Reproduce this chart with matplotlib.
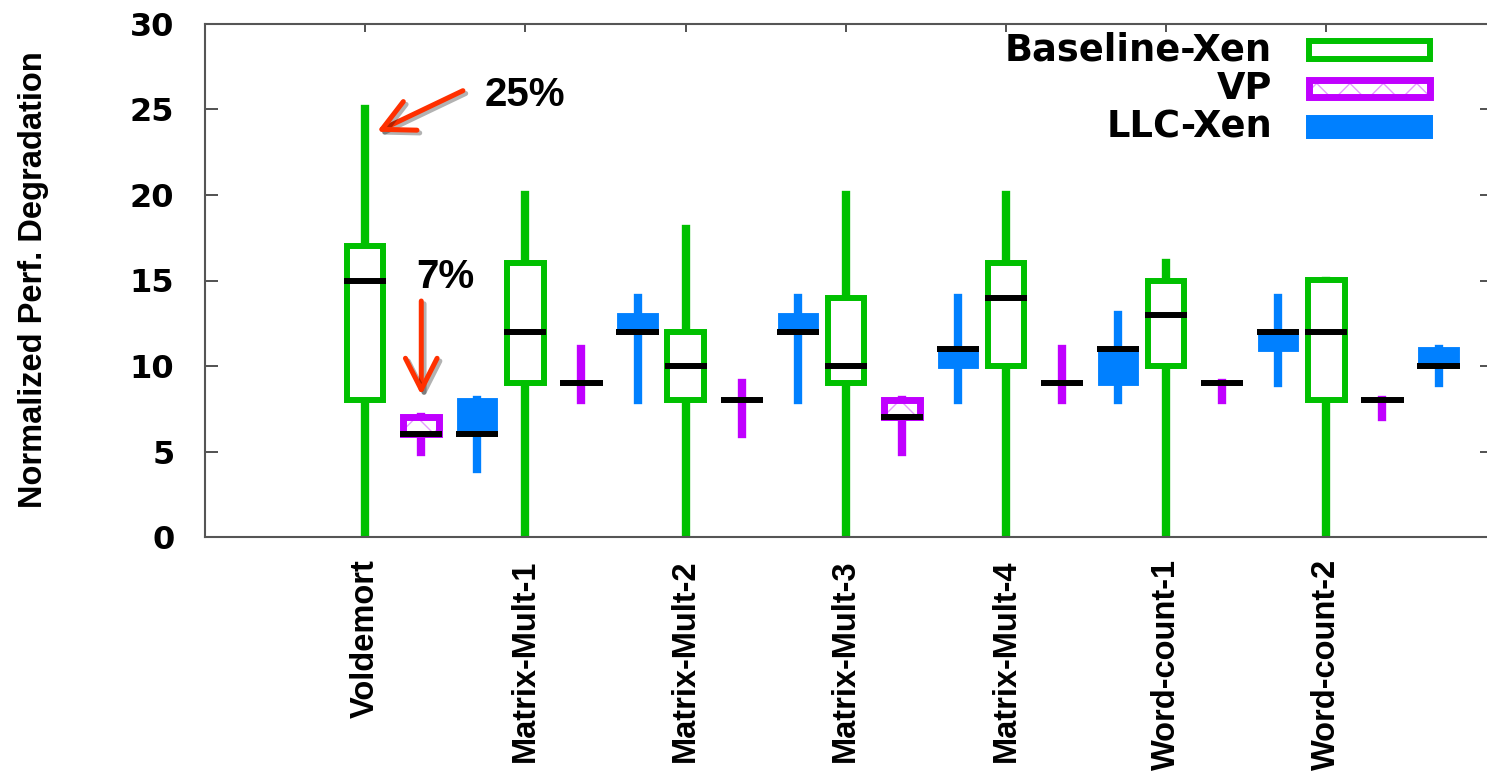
import numpy as np
import matplotlib
matplotlib.use("Agg")
import matplotlib.pyplot as plt
from matplotlib.patches import Rectangle
import matplotlib.patheffects as pe

# --- data ---
workloads = ["Voldemort", "Matrix-Mult-1", "Matrix-Mult-2", "Matrix-Mult-3",
             "Matrix-Mult-4", "Word-count-1", "Word-count-2"]

baseline_lo = [0, 0, 0, 0, 0, 0, 0]
baseline_q1 = [8, 9, 8, 9, 10, 10, 8]
baseline_med = [15, 12, 10, 10, 14, 13, 12]
baseline_q3 = [17, 16, 12, 14, 16, 15, 15]
baseline_hi = [25, 20, 18, 20, 20, 16, 15]

vp_lo = [5, 8, 6, 5, 8, 8, 7]
vp_q1 = [6, 9, 8, 7, 9, 9, 8]
vp_med = [6, 9, 8, 7, 9, 9, 8]
vp_q3 = [7, 9, 8, 8, 9, 9, 8]
vp_hi = [7, 11, 9, 8, 11, 9, 8]

llc_lo = [4, 8, 8, 8, 8, 9, 9]
llc_q1 = [6, 12, 12, 10, 9, 11, 10]
llc_med = [6, 12, 12, 11, 11, 12, 10]
llc_q3 = [8, 13, 13, 11, 11, 12, 11]
llc_hi = [8, 14, 14, 14, 13, 14, 11]

yticks = [0, 5, 10, 15, 20, 25, 30]

GREEN = "#00c000"
PURPLE = "#c000ff"
HATCH = "#e59cff"
BLUE = "#0080ff"
RED = "#ff3000"

BOX_W = 0.68
MED_W = 0.79
OFFSETS = [0.0, 1.05, 2.1]

plt.rcParams["font.family"] = ["DejaVu Sans"]
NARROW = ["Liberation Sans Narrow", "Liberation Sans", "DejaVu Sans"]
CALLOUT = ["Liberation Sans", "DejaVu Sans"]


def draw_candle(ax, x, lo, q1, med, q3, hi, kind):
    color = {"base": GREEN, "vp": PURPLE, "llc": BLUE}[kind]
    ax.plot([x, x], [lo, hi], color=color, lw=6.0,
            solid_capstyle="projecting", zorder=2)
    if q3 > q1:
        if kind == "base":
            ax.add_patch(Rectangle((x - BOX_W / 2, q1), BOX_W, q3 - q1,
                                   facecolor="white", edgecolor=color,
                                   lw=4.3, zorder=3))
        elif kind == "vp":
            ax.add_patch(Rectangle((x - BOX_W / 2, q1), BOX_W, q3 - q1,
                                   facecolor="white", edgecolor=HATCH,
                                   hatch="x", lw=0, zorder=3))
            ax.add_patch(Rectangle((x - BOX_W / 2, q1), BOX_W, q3 - q1,
                                   facecolor="none", edgecolor=color,
                                   lw=5.0, zorder=3.5))
        else:
            ax.add_patch(Rectangle((x - BOX_W / 2, q1), BOX_W, q3 - q1,
                                   facecolor=color, edgecolor=color,
                                   lw=3.5, zorder=3))
    ax.plot([x - MED_W / 2, x + MED_W / 2], [med, med], color="black",
            lw=4.3, solid_capstyle="butt", zorder=4)


fig = plt.figure(figsize=(14.87, 7.71), dpi=100)
W, H = 1487, 771
ax = fig.add_axes([205 / W, 1 - 537 / H, (1492 - 205) / W, (537 - 24) / H])

group_x = np.arange(len(workloads)) * 3.0
series = [
    ("base", baseline_lo, baseline_q1, baseline_med, baseline_q3, baseline_hi),
    ("vp", vp_lo, vp_q1, vp_med, vp_q3, vp_hi),
    ("llc", llc_lo, llc_q1, llc_med, llc_q3, llc_hi),
]
for (kind, lo, q1, med, q3, hi), off in zip(series, OFFSETS):
    for i, gx in enumerate(group_x):
        draw_candle(ax, gx + off, lo[i], q1[i], med[i], q3[i], hi[i], kind)

ax.set_xlim(-3, -3 + (1492 - 205) / 53.4)
ax.set_ylim(0, 30)
ax.set_yticks(yticks)
ax.set_yticklabels([str(v) for v in yticks], fontsize=23, fontweight="bold")
ax.set_xticks(group_x)
ax.set_xticklabels(workloads, rotation=90, va="top", ha="center",
                   fontsize=23.5, fontweight="bold", family=NARROW)
ax.tick_params(axis="y", direction="in", length=9, width=1.2, pad=22,
               right=True, colors="#333333", labelcolor="black")
ax.tick_params(axis="x", direction="in", length=6, width=1.2, pad=16,
               top=True, colors="#333333", labelcolor="black")
for sp in ax.spines.values():
    sp.set_color("#555555")
    sp.set_linewidth(1.5)

fig.text(34 / W, 1 - 280 / H, "Normalized Perf. Degradation", rotation=90,
         ha="center", va="center", fontsize=23.5, fontweight="bold", family=NARROW)

# legend drawn by hand, gnuplot style (label left of sample)
legend_items = [("Baseline-Xen", "base"), ("VP", "vp"), ("LLC-Xen", "llc")]
for i, (label, kind) in enumerate(legend_items):
    yc = 0.949 - i * 0.075
    ax.text(0.829, yc, label, transform=ax.transAxes, ha="right", va="center",
            fontsize=26.5, fontweight="bold")
    rx, rw, rh = 0.858, 0.094, 0.034
    if kind == "base":
        ax.add_patch(Rectangle((rx, yc - rh / 2), rw, rh, transform=ax.transAxes,
                               facecolor="white", edgecolor=GREEN, lw=4.3))
    elif kind == "vp":
        ax.add_patch(Rectangle((rx, yc - rh / 2), rw, rh, transform=ax.transAxes,
                               facecolor="white", edgecolor=HATCH, hatch="x", lw=0))
        ax.add_patch(Rectangle((rx, yc - rh / 2), rw, rh, transform=ax.transAxes,
                               facecolor="none", edgecolor=PURPLE, lw=5.0))
    else:
        ax.add_patch(Rectangle((rx, yc - rh / 2), rw, rh, transform=ax.transAxes,
                               facecolor=BLUE, edgecolor=BLUE, lw=4.3))

# callouts
shadow = [pe.SimpleLineShadow(offset=(2, -2), alpha=0.3, shadow_color="black"),
          pe.Normal()]
arrow_style = "->,head_length=0.75,head_width=0.38"
ann1 = ax.annotate("", xy=(group_x[0] + 0.22, baseline_hi[0] - 1.3),
                   xytext=(group_x[0] + 1.83, baseline_hi[0] + 1.1),
                   arrowprops=dict(arrowstyle=arrow_style, lw=3.6, color=RED,
                                   mutation_scale=30, shrinkA=0, shrinkB=0))
ann1.arrow_patch.set_path_effects(shadow)
ann2 = ax.annotate("", xy=(group_x[0] + OFFSETS[1], vp_q3[0] + 1.3),
                   xytext=(group_x[0] + OFFSETS[1], vp_q3[0] + 6.8),
                   arrowprops=dict(arrowstyle=arrow_style, lw=3.6, color=RED,
                                   mutation_scale=30, shrinkA=0, shrinkB=0))
ann2.arrow_patch.set_path_effects(shadow)
ax.text(group_x[0] + 3.0, baseline_hi[0] + 0.85, "25%", ha="center", va="center",
        fontsize=29, fontweight="bold", family=CALLOUT)
ax.text(group_x[0] + 1.51, vp_q3[0] + 8.2, "7%", ha="center", va="center",
        fontsize=29, fontweight="bold", family=CALLOUT)

fig.savefig("out.png", dpi=100)
